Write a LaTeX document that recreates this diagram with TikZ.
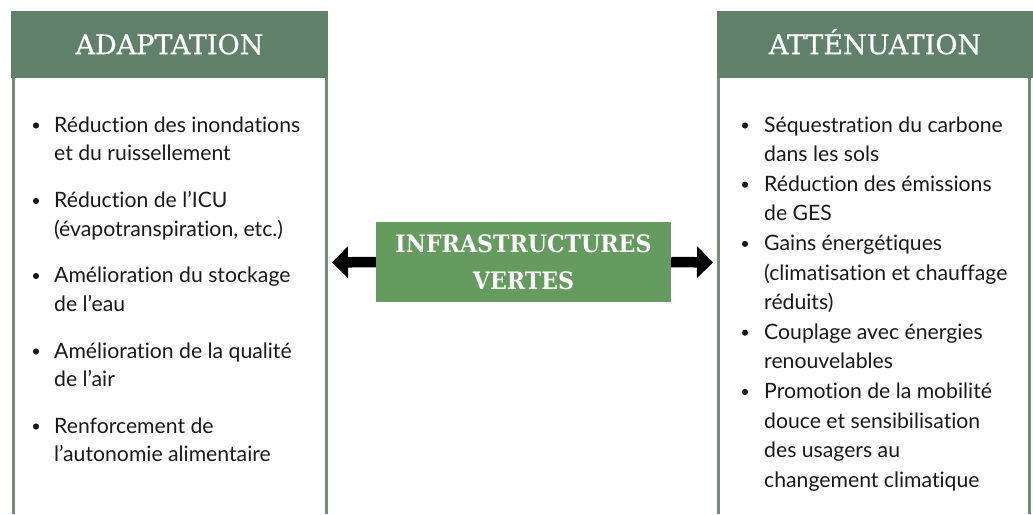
\documentclass[tikz,border=0pt]{standalone}
\usepackage{fontspec}
\setmainfont[Ligatures=NoCommon]{Lato}
\newfontfamily\slab[FakeBold=0.8]{DejaVu Serif}
\newfontfamily\slabbold[FakeStretch=0.92]{DejaVu Serif Bold}
\usetikzlibrary{arrows.meta}
\definecolor{hdrgreen}{RGB}{96,128,106}
\definecolor{bordergreen}{RGB}{112,142,121}
\definecolor{midgreen}{RGB}{101,155,94}
\definecolor{bodytext}{RGB}{25,25,25}
\newcommand\twolines[2]{\vtop{\hbox{#1}\hbox{#2}}}
\newcommand\threelines[3]{\vtop{\hbox{#1}\hbox{#2}\hbox{#3}}}
\newcommand\fourlines[4]{\vtop{\hbox{#1}\hbox{#2}\hbox{#3}\hbox{#4}}}
\tikzset{
  header/.style={fill=hdrgreen, text=white, inner sep=0pt, font=\slab\fontsize{27}{32}\selectfont, text height=19.7pt, text depth=0pt},
  panelborder/.style={draw=bordergreen, line width=2.6pt},
  midbox/.style={fill=midgreen, text=white, inner sep=0pt, minimum width=295pt, minimum height=80pt, align=center, font=\slabbold\fontsize{24}{37}\selectfont},
  leftitem/.style={anchor=base west, inner sep=0pt, text=bodytext, font=\fontsize{21.2}{28.5}\selectfont},
  rightitem/.style={anchor=base west, inner sep=0pt, text=bodytext, font=\fontsize{21.2}{29.6}\selectfont},
  bigarrow/.style={draw=black, line width=10.5pt, -{Triangle[length=16pt,width=31pt]}, shorten >=5pt},
}
\begin{document}
\begin{tikzpicture}[x=1pt,y=-1pt]
\useasboundingbox (0,0) rectangle (1033,514);

% left panel
\draw[panelborder] (13.3,70) -- (13.3,514);
\draw[panelborder] (326.2,70) -- (326.2,514);
\node[header, minimum width=317pt, minimum height=66.5pt] (lh) at (169.5,44.3) {ADAPTATION};
\coordinate (lpE) at (327,262.5);

% right panel
\draw[panelborder] (718.6,70) -- (718.6,514);
\draw[panelborder] (1029.5,70) -- (1029.5,514);
\node[header, minimum width=316pt, minimum height=66.5pt] (rh) at (875,44.3) {ATTÉNUATION};
\coordinate (rpW) at (718,262.5);

% centre
\node[midbox] (mid) at (523.5,262) {INFRASTRUCTURES\\VERTES};
\draw[bigarrow] (mid.west) -- (lpE);
\draw[bigarrow] (mid.east) -- (rpW);

% left items
\node[leftitem] (l1) at (54,132) {\twolines{Réduction des inondations}{et du ruissellement}};
\node[leftitem] (l2) at (54,207.5) {\twolines{Réduction de l’ICU}{(évapotranspiration, etc.)}};
\node[leftitem] (l3) at (54,282.5) {\twolines{Amélioration du stockage}{de l’eau}};
\node[leftitem] (l4) at (54,358) {\twolines{Amélioration de la qualité}{de l’air}};
\node[leftitem] (l5) at (54,433) {\twolines{Renforcement de}{l’autonomie alimentaire}};
\foreach \n in {l1,l2,l3,l4,l5}
  \fill[bodytext] ([xshift=-18pt,yshift=6.5pt]\n.base west) circle (3.1pt);

% right items
\node[rightitem] (r1) at (764,132) {\twolines{Séquestration du carbone}{dans les sols}};
\node[rightitem] (r2) at (764,191.2) {\twolines{Réduction des émissions}{de GES}};
\node[rightitem] (r3) at (764,250.4) {\threelines{Gains énergétiques}{(climatisation et chauffage}{réduits)}};
\node[rightitem] (r4) at (764,339.2) {\twolines{Couplage avec énergies}{renouvelables}};
\node[rightitem] (r5) at (764,398.4) {\fourlines{Promotion de la mobilité}{douce et sensibilisation}{des usagers au}{changement climatique}};
\foreach \n in {r1,r2,r3,r4,r5}
  \fill[bodytext] ([xshift=-19pt,yshift=6.5pt]\n.base west) circle (3.1pt);
\end{tikzpicture}
\end{document}
